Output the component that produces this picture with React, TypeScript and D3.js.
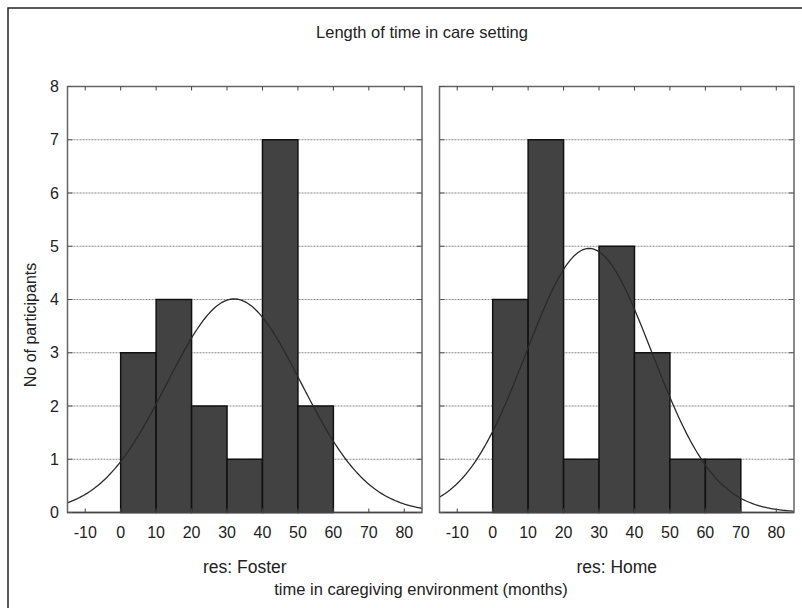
import { line, range, scaleLinear } from "d3";

// histogram bins (months) and counts
const binStarts = [0, 10, 20, 30, 40, 50, 60];
const binWidth = 10;
const fosterCounts = [3, 4, 2, 1, 7, 2, 0];
const homeCounts = [4, 7, 1, 5, 3, 1, 1];

// fitted normal curves (mean, sd in months, n participants)
const fosterFit = { mean: 32, sd: 18.9, n: 19 };
const homeFit = { mean: 27.2, sd: 17.7, n: 22 };

const xTicks = [-10, 0, 10, 20, 30, 40, 50, 60, 70, 80];
const yTicks = [0, 1, 2, 3, 4, 5, 6, 7, 8];

const panels = [
  { label: "res: Foster", counts: fosterCounts, fit: fosterFit, left: 67.5, right: 422 },
  { label: "res: Home", counts: homeCounts, fit: homeFit, left: 439.5, right: 794 },
];

const font = "'Liberation Sans', Arial, sans-serif";
const top = 86.5;
const bottom = 512.5;

function Panel({ p }: { p: (typeof panels)[number] }) {
  const x = scaleLinear().domain([-15, 85]).range([p.left, p.right]);
  const y = scaleLinear().domain([0, 8]).range([bottom, top]);

  const density = (v: number) =>
    ((p.fit.n * binWidth) / (p.fit.sd * Math.sqrt(2 * Math.PI))) *
    Math.exp(-((v - p.fit.mean) ** 2) / (2 * p.fit.sd * p.fit.sd));

  const curve = line<number>()
    .x((v) => x(v))
    .y((v) => y(density(v)));

  return (
    <g>
      {/* grid */}
      {yTicks.slice(1, -1).map((t) => (
        <line key={"g" + t} x1={p.left} x2={p.right} y1={y(t)} y2={y(t)}
          stroke="#888" strokeWidth={1} strokeDasharray="2,1" />
      ))}
      {/* bars */}
      {p.counts.map((c, i) =>
        c > 0 ? (
          <rect key={"b" + i} x={x(binStarts[i])} y={y(c)}
            width={x(binStarts[i] + binWidth) - x(binStarts[i])} height={y(0) - y(c)}
            fill="#424242" stroke="#111" strokeWidth={1.5} />
        ) : null
      )}
      {/* normal curve */}
      <path d={curve(range(-15, 85.01, 0.5)) || ""} fill="none" stroke="#2a2a2a" strokeWidth={1.3} />
      {/* frame */}
      <rect x={p.left} y={top} width={p.right - p.left} height={bottom - top}
        fill="none" stroke="#666" strokeWidth={1.5} />
      <line x1={p.left} x2={p.right} y1={bottom} y2={bottom} stroke="#444" strokeWidth={1.5} />
      {/* ticks */}
      {xTicks.map((t) => (
        <g key={"x" + t}>
          <line x1={x(t)} x2={x(t)} y1={top} y2={top + 4} stroke="#444" />
          <line x1={x(t)} x2={x(t)} y1={bottom} y2={bottom - 4} stroke="#444" />
          <text x={x(t)} y={538} textAnchor="middle" fontSize={16} fill="#222">{t}</text>
        </g>
      ))}
      {yTicks.map((t) => (
        <g key={"y" + t}>
          <line x1={p.left} x2={p.left + 5} y1={y(t)} y2={y(t)} stroke="#555" />
          <line x1={p.right} x2={p.right - 5} y1={y(t)} y2={y(t)} stroke="#555" />
        </g>
      ))}
      <text x={(p.left + p.right) / 2} y={573} textAnchor="middle" fontSize={17.5} fill="#222">
        {p.label}
      </text>
    </g>
  );
}

export default function App() {
  const y = scaleLinear().domain([0, 8]).range([bottom, top]);
  return (
    <svg width={802} height={608} style={{ position: "absolute", left: 0, top: 0, background: "#fff" }}
      fontFamily={font}>
      <rect x={8} y={8} width={800} height={620} fill="none" stroke="#222" strokeWidth={1.5} />
      <text x={422} y={38} textAnchor="middle" fontSize={16.5} fill="#222">
        Length of time in care setting
      </text>
      {yTicks.map((t) => (
        <text key={t} x={59} y={y(t)} dy="0.35em" textAnchor="end" fontSize={16} fill="#222">{t}</text>
      ))}
      <text transform="translate(36,325) rotate(-90)" textAnchor="middle" fontSize={16} fill="#222">
        No of participants
      </text>
      {panels.map((p) => (
        <Panel key={p.label} p={p} />
      ))}
      <text x={421} y={595} textAnchor="middle" fontSize={16.5} fill="#222">
        time in caregiving environment (months)
      </text>
    </svg>
  );
}
